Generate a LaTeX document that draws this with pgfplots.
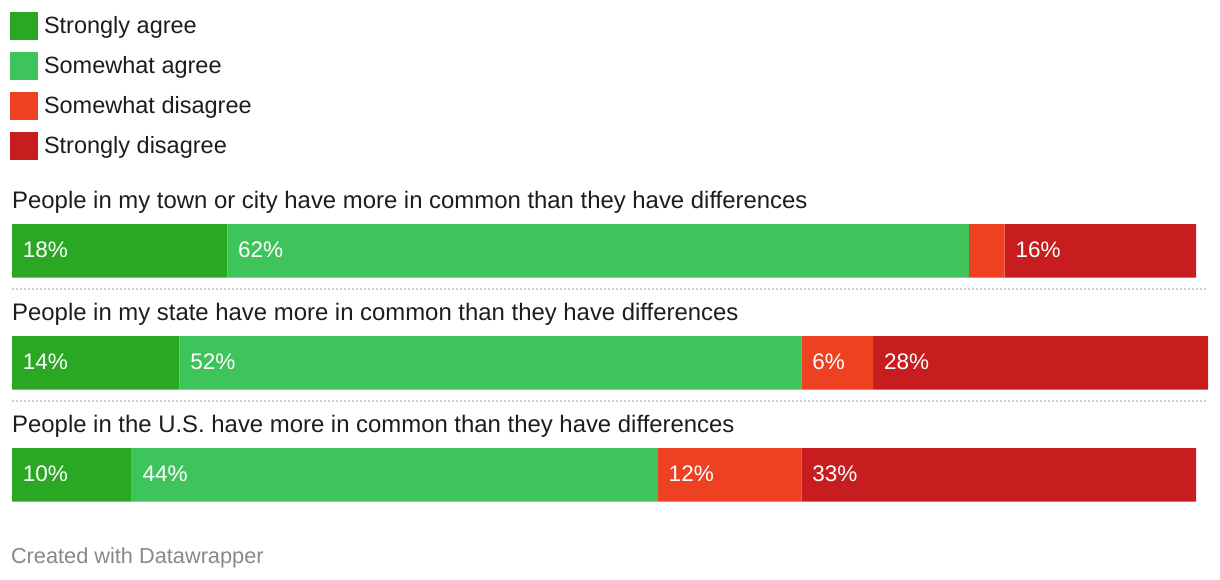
\documentclass[border=0pt]{standalone}
\usepackage{pgfplots}
\pgfplotsset{compat=1.18}
\usepackage{fontspec}
\setmainfont{Liberation Sans}
\definecolor{sa}{HTML}{2AA823}
\definecolor{swa}{HTML}{3FC35B}
\definecolor{swd}{HTML}{EE4121}
\definecolor{sd}{HTML}{C81D1F}
\definecolor{txt}{HTML}{1D1D1D}
\definecolor{foot}{HTML}{888888}
\definecolor{sepgray}{HTML}{CCCCCC}
\tikzset{
  ttl/.style={anchor=base west, inner sep=0pt, text=txt, font=\fontsize{23.9}{28}\selectfont},
  val/.style={anchor=base west, inner sep=0pt, text=white, xshift=10.7pt, font=\fontsize{22.5}{27}\selectfont},
  sepline/.style={draw=sepgray, line width=2pt, dash pattern=on 2pt off 2pt},
}
\begin{document}
\begin{tikzpicture}
\useasboundingbox (0,0) rectangle (1220pt,580pt);
\begin{axis}[
  at={(0,0)}, anchor=south west,
  scale only axis, width=1220pt, height=580pt,
  xmin=-1.00334, xmax=101.00334, ymin=0, ymax=580, y dir=reverse,
  hide axis, clip=false,
  xbar stacked, bar width=53.7,
  legend style={at={(axis cs:-0.167,12)}, anchor=north west, draw=none, fill=none,
    inner sep=0pt, outer sep=0pt, font=\fontsize{23.5}{28}\selectfont, text=txt,
    row sep=12pt, nodes={inner sep=0pt, text height=21.3pt, text depth=6.7pt},
    /tikz/every odd column/.style={column sep=6pt}},
  legend cell align=left,
  legend image code/.code={\path (0pt,0pt) -- (28pt,0pt); \fill[#1, overlay] (0pt,-13.7pt) rectangle (28pt,14.3pt);},
  after end axis/.code={
    \node[val] at (axis cs:0,257.7) {18\%};
    \node[val] at (axis cs:18,257.7) {62\%};
    \node[val] at (axis cs:83,257.7) {16\%};
    \node[val] at (axis cs:0,369.7) {14\%};
    \node[val] at (axis cs:14,369.7) {52\%};
    \node[val] at (axis cs:66,369.7) {6\%};
    \node[val] at (axis cs:72,369.7) {28\%};
    \node[val] at (axis cs:0,481.7) {10\%};
    \node[val] at (axis cs:10,481.7) {44\%};
    \node[val] at (axis cs:54,481.7) {12\%};
    \node[val] at (axis cs:66,481.7) {33\%};
  },
]
\addplot[fill=sa, draw=none] coordinates {(18,250.85) (14,362.85) (10,474.85)};
\addplot[fill=swa, draw=none] coordinates {(62,250.85) (52,362.85) (44,474.85)};
\addplot[fill=swd, draw=none] coordinates {(3,250.85) (6,362.85) (12,474.85)};
\addplot[fill=sd, draw=none] coordinates {(16,250.85) (28,362.85) (33,474.85)};
\legend{Strongly agree, Somewhat agree, Somewhat disagree, Strongly disagree}

\node[ttl] at (axis cs:0,208) {People in my town or city have more in common than they have differences};
\node[ttl] at (axis cs:0,320) {People in my state have more in common than they have differences};
\node[ttl] at (axis cs:0,432) {People in the U.S. have more in common than they have differences};

\draw[sepline] (axis cs:0,289) -- (axis cs:100,289);
\draw[sepline] (axis cs:0,401) -- (axis cs:100,401);

\node[anchor=base west, inner sep=0pt, text=foot, font=\fontsize{21.75}{26}\selectfont] at (axis cs:-0.1,563.3) {Created with Datawrapper};
\end{axis}
\end{tikzpicture}
\end{document}
